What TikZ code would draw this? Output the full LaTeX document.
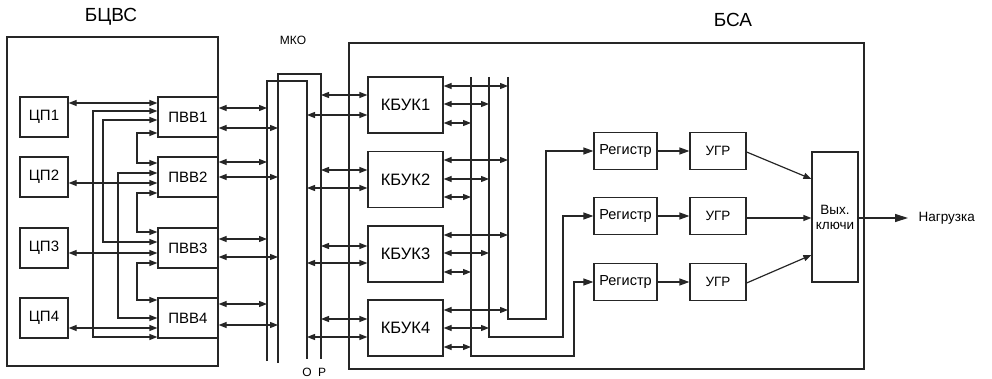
\documentclass[tikz,border=0pt]{standalone}
\usepackage{fontspec}
\setmainfont{Liberation Sans}
\usetikzlibrary{arrows.meta}
\begin{document}
\begin{tikzpicture}[x=1pt,y=-1pt, line width=1.2pt, draw=black!85,
  >={Triangle[length=8pt,width=6pt]},
  bigtip/.style={-{Triangle[length=10pt,width=7pt]}},
  hugetip/.style={-{Triangle[length=13pt,width=8pt]}},
  box/.style={draw, inner sep=0pt},
  fa/.style={font=\fontsize{19}{22}\selectfont},
  fb/.style={font=\fontsize{16.5}{19}\selectfont},
  fc/.style={font=\fontsize{15}{17}\selectfont},
  fr/.style={font=\fontsize{14.5}{17}\selectfont},
  fd/.style={font=\fontsize{13.5}{15}\selectfont},
  fe/.style={font=\fontsize{12}{14}\selectfont}]
\useasboundingbox (0,0) rectangle (992,379);

% ---------- БЦВС ----------
\node[fa] (t1) at (111,17) {БЦВС};
\draw (7,37) rectangle (218,366);
\foreach \i/\y in {1/117,2/177,3/248,4/318}{
  \node[box,fc,minimum width=48pt,minimum height=40pt] (cp\i) at (44,\y) {ЦП\i};
  \node[box,fc,minimum width=60pt,minimum height=40pt] (pvv\i) at (188,\y) {ПВВ\i};
}
\foreach \i/\y in {1/103,2/183,3/253,4/328}{
  \draw[<->] (cp\i.east |- 0,\y) -- (pvv\i.west |- 0,\y);
}
\draw[<->] (pvv1.west |- 0,111) -| (93,337) -- (pvv4.west |- 0,337);
\draw[<->] (pvv1.west |- 0,120) -| (103,242) -- (pvv3.west |- 0,242);
\draw[<->] (pvv2.west |- 0,173) -| (118,318) -- (pvv4.west |- 0,318);
\draw[<->] (pvv1.west |- 0,133) -| (137,163) -- (pvv2.west |- 0,163);
\draw[<->] (pvv2.west |- 0,193) -| (137,232) -- (pvv3.west |- 0,232);
\draw[<->] (pvv3.west |- 0,263) -| (137,300) -- (pvv4.west |- 0,300);

% ---------- МКО ----------
\node[fe] (mko) at (293,40) {МКО};
\coordinate (aL) at (267,81);
\coordinate (aR) at (307,81);
\coordinate (bL) at (278,74);
\coordinate (bR) at (321,74);
\draw (267,361) -- (aL) -- (aR) -- (307,359);
\draw (278,363) -- (bL) -- (bR) -- (321,359);
\node[fe] (lo) at (307,372) {О};
\node[fe] (lr) at (322,372) {Р};

\foreach \i/\ya/\yb in {1/108/128,2/162/177,3/239/257,4/304/325}{
  \draw[<->] (pvv\i.east |- 0,\ya) -- (aL |- 0,\ya);
  \draw[<->] (pvv\i.east |- 0,\yb) -- (bL |- 0,\yb);
}

% ---------- БСА ----------
\node[fa] (t2) at (733,20) {БСА};
\draw (349,43) rectangle (864,369);
\foreach \i/\y in {1/105,2/179.5,3/254,4/328}{
  \node[box,fb,minimum width=75pt,minimum height=56pt] (kb\i) at (405.5,\y) {КБУК\i};
}
\foreach \i/\yb/\ya in {1/95/115,2/170/188,3/246/263,4/319/337}{
  \draw[<->] (bR |- 0,\yb) -- (kb\i.west |- 0,\yb);
  \draw[<->] (aR |- 0,\ya) -- (kb\i.west |- 0,\ya);
}
\coordinate (v1) at (508,77);
\coordinate (v2) at (489,77);
\coordinate (v3) at (471,77);
\foreach \i/\ya/\yb/\yc in {1/86/104/123,2/160/179/197,3/235/253/272,4/310/328/347}{
  \draw[<->] (kb\i.east |- 0,\ya) -- (v1 |- 0,\ya);
  \draw[<->] (kb\i.east |- 0,\yb) -- (v2 |- 0,\yb);
  \draw[<->] (kb\i.east |- 0,\yc) -- (v3 |- 0,\yc);
}
\foreach \i/\y in {1/151,2/216,3/282}{
  \node[box,fr,minimum width=63pt,minimum height=37pt] (reg\i) at (625.5,\y) {Регистр};
  \node[box,fd,minimum width=56pt,minimum height=37pt] (ugr\i) at (718,\y) {УГР};
  \draw[bigtip] (reg\i) -- (ugr\i);
}
\draw[bigtip] (v1) -- (508,319) -- (546,319) -- (546,151) -- (reg1.west);
\draw[bigtip] (v2) -- (489,337) -- (563,337) -- (563,216) -- (reg2.west);
\draw[bigtip] (v3) -- (471,356) -- (574,356) -- (574,282) -- (reg3.west);

\node[box,fd,minimum width=46pt,minimum height=130pt,align=center] (out) at (835,217) {Вых.\\ключи};
\draw[->] (ugr1.east |- 0,152) -- (out.west |- 0,179);
\draw[->] (ugr2.east |- 0,218) -- (out.west |- 0,218);
\draw[->] (ugr3.east |- 0,283) -- (out.west |- 0,255);

\node[fd,anchor=west,inner xsep=0pt] (load) at (918,218) {Нагрузка};
\draw[hugetip] (out.east |- 0,218) -- ([xshift=-10pt]load.west);
\end{tikzpicture}
\end{document}
